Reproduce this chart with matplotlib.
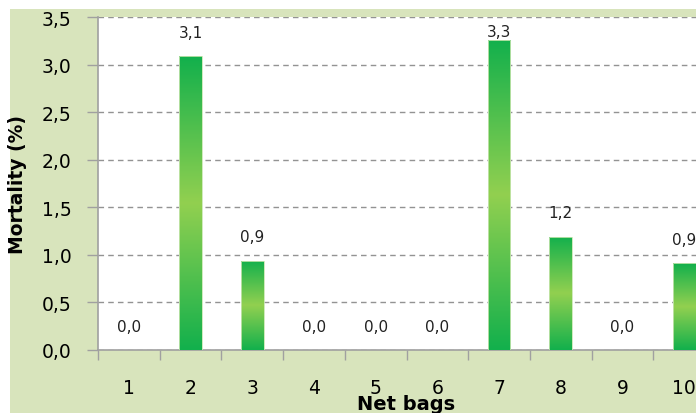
import numpy as np
import matplotlib.pyplot as plt
from matplotlib.patches import Rectangle
from matplotlib.colors import LinearSegmentedColormap

# data
bags = ['1', '2', '3', '4', '5', '6', '7', '8', '9', '10']
mortality = [0.0, 3.09, 0.94, 0.0, 0.0, 0.0, 3.26, 1.19, 0.0, 0.91]

W, H = 696, 414
fig = plt.figure(figsize=(W / 100, H / 100), dpi=100)
fig.patch.set_facecolor('white')
# light green chart area (starts 10px in from top/left)
fig.patches.append(Rectangle((10 / W, 0), 1, (H - 10) / H, transform=fig.transFigure,
                             facecolor='#d8e4bc', edgecolor='none', zorder=-10))

# plot area runs past the right edge (picture is cropped)
ax = fig.add_axes([98 / W, (H - 351) / H, 617 / W, 333 / H])
ax.set_facecolor('white')

x = np.arange(len(bags))
width = 0.37
bars = ax.bar(x, mortality, width=width, color='none', edgecolor='none', zorder=3)

# vertical gradient: dark green - light green - dark green
cmap = LinearSegmentedColormap.from_list('g', ['#12b04c', '#92d050', '#12b04c'])
grad = np.linspace(0, 1, 256).reshape(-1, 1)
for b in bars:
    h = b.get_height()
    if h <= 0:
        continue
    x0 = b.get_x()
    im = ax.imshow(grad, cmap=cmap, aspect='auto', extent=(x0, x0 + width, 0, h),
                   origin='lower', zorder=3)
    im.set_clip_path(b)
    ax.add_patch(Rectangle((x0, 0), width, h, facecolor='none',
                           edgecolor='#c8e6b0', linewidth=0.6, zorder=4))

for xi, v in zip(x, mortality):
    ax.text(xi, min(v + 0.25, 3.35), f'{v:.1f}'.replace('.', ','),
            ha='center', va='center', fontsize=11, color='#222222', zorder=5)

ax.set_xlim(-0.5, len(bags) - 0.5)
ax.set_ylim(0, 3.5)
yt = np.arange(0, 3.51, 0.5)
ax.set_yticks(yt)
ax.set_yticklabels([f'{t:.1f}'.replace('.', ',') for t in yt], fontsize=13.5)
ax.yaxis.grid(True, linestyle=(0, (4, 3)), color='#939393', linewidth=1)
ax.set_axisbelow(True)

ax.set_xticks(np.arange(-0.5, len(bags), 1))
ax.set_xticklabels([])
ax.set_xticks(x, minor=True)
ax.set_xticklabels(bags, minor=True, fontsize=13.5)
ax.tick_params(axis='x', which='minor', length=0, pad=20)
ax.tick_params(axis='x', which='major', length=7, color='#a0a0a0', width=1)
ax.tick_params(axis='y', length=8, color='#a0a0a0', width=1, pad=11)

for s in ['top', 'right']:
    ax.spines[s].set_visible(False)
for s in ['left', 'bottom']:
    ax.spines[s].set_color('#a0a0a0')
    ax.spines[s].set_linewidth(1.2)

fig.text(18 / W, (H - 185) / H, 'Mortality (%)', rotation=90, ha='center', va='center',
         fontsize=13.5, fontweight='bold')
fig.text(406 / W, (H - 405) / H, 'Net bags', ha='center', va='center',
         fontsize=14, fontweight='bold')

fig.savefig('out.png', dpi=100)
